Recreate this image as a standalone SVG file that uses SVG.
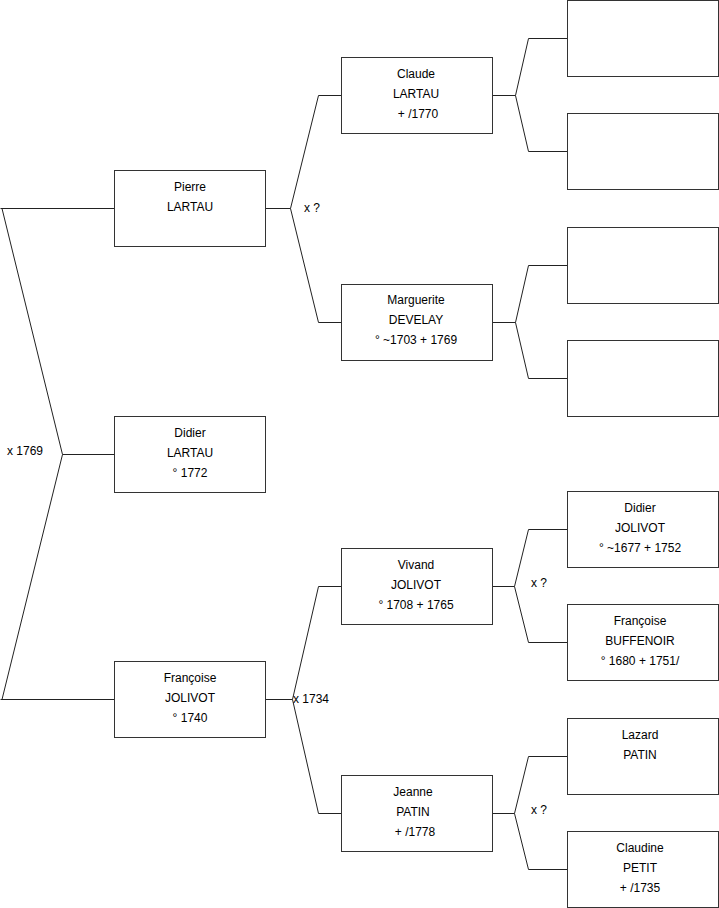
<svg xmlns="http://www.w3.org/2000/svg" width="719" height="908" viewBox="0 0 719 908">
<style>
.box{fill:#fff;stroke:#333;stroke-width:1}
.t{font-family:"Liberation Sans",Arial,sans-serif;font-size:12px;fill:#000;text-anchor:middle}
.l{font-family:"Liberation Sans",Arial,sans-serif;font-size:12px;fill:#000}
.c{fill:none;stroke:#222;stroke-width:1}
</style>
<rect width="719" height="908" fill="#fff"/>
<g id="connectors">
<path class="c" d="M0.5,208.5 H114 M2,208.5 L62.5,454.5 L2,699.5 M0.5,699.5 H114 M62.5,454.5 H114"/>
<path class="c" d="M265,208.5 H290.5 L318.5,95.5 H341 M290.5,208.5 L318.5,322.5 H341"/>
<path class="c" d="M265,699.5 H292.5 L318.5,586.5 H341 M292.5,699.5 L318.5,813.5 H341"/>
<path class="c" d="M492,95.5 H515.5 L528.5,38.5 H567 M515.5,95.5 L528.5,151.5 H567"/>
<path class="c" d="M492,322.5 H515.5 L528.5,265.5 H567 M515.5,322.5 L528.5,378.5 H567"/>
<path class="c" d="M492,586.5 H514.5 L528.5,529.5 H567 M514.5,586.5 L528.5,642.5 H567"/>
<path class="c" d="M492,813.5 H514.5 L528.5,756.5 H567 M514.5,813.5 L528.5,869.5 H567"/>
<text class="l" x="7" y="455">x 1769</text>
<text class="l" x="304" y="212">x ?</text>
<text class="l" x="293" y="703">x 1734</text>
<text class="l" x="531" y="587">x ?</text>
<text class="l" x="531" y="814">x ?</text>
</g>
<g id="pierre"><rect class="box" x="114.5" y="170.5" width="151" height="76"/><text class="t" x="190" y="191">Pierre</text><text class="t" x="190" y="211">LARTAU</text></g>
<g id="didier"><rect class="box" x="114.5" y="416.5" width="151" height="76"/><text class="t" x="190" y="437">Didier</text><text class="t" x="190" y="457">LARTAU</text><text class="t" x="190" y="477">° 1772</text></g>
<g id="francoise"><rect class="box" x="114.5" y="661.5" width="151" height="76"/><text class="t" x="190" y="682">Françoise</text><text class="t" x="190" y="702">JOLIVOT</text><text class="t" x="190" y="722">° 1740</text></g>
<g id="claude"><rect class="box" x="341.5" y="57.5" width="151" height="76"/><text class="t" x="416" y="78">Claude</text><text class="t" x="416" y="98">LARTAU</text><text class="t" x="418" y="118">+ /1770</text></g>
<g id="marguerite"><rect class="box" x="341.5" y="284.5" width="151" height="76"/><text class="t" x="416" y="304">Marguerite</text><text class="t" x="416" y="324">DEVELAY</text><text class="t" x="416" y="344">° ~1703 + 1769</text></g>
<g id="vivand"><rect class="box" x="341.5" y="548.5" width="151" height="76"/><text class="t" x="416" y="569">Vivand</text><text class="t" x="416" y="589">JOLIVOT</text><text class="t" x="416" y="609">° 1708 + 1765</text></g>
<g id="jeanne"><rect class="box" x="341.5" y="775.5" width="151" height="76"/><text class="t" x="413" y="796">Jeanne</text><text class="t" x="413" y="816">PATIN</text><text class="t" x="415" y="836">+ /1778</text></g>
<g id="empty1"><rect class="box" x="567.5" y="0.5" width="151" height="76"/></g>
<g id="empty2"><rect class="box" x="567.5" y="113.5" width="151" height="76"/></g>
<g id="empty3"><rect class="box" x="567.5" y="227.5" width="151" height="76"/></g>
<g id="empty4"><rect class="box" x="567.5" y="340.5" width="151" height="76"/></g>
<g id="didier-j"><rect class="box" x="567.5" y="491.5" width="151" height="76"/><text class="t" x="640" y="512">Didier</text><text class="t" x="640" y="532">JOLIVOT</text><text class="t" x="640" y="552">° ~1677 + 1752</text></g>
<g id="francoise-b"><rect class="box" x="567.5" y="604.5" width="151" height="76"/><text class="t" x="640" y="625">Françoise</text><text class="t" x="640" y="645">BUFFENOIR</text><text class="t" x="640" y="665">° 1680 + 1751/</text></g>
<g id="lazard"><rect class="box" x="567.5" y="718.5" width="151" height="76"/><text class="t" x="640" y="739">Lazard</text><text class="t" x="640" y="759">PATIN</text></g>
<g id="claudine"><rect class="box" x="567.5" y="831.5" width="151" height="76"/><text class="t" x="640" y="852">Claudine</text><text class="t" x="640" y="872">PETIT</text><text class="t" x="640" y="892">+ /1735</text></g>
</svg>
